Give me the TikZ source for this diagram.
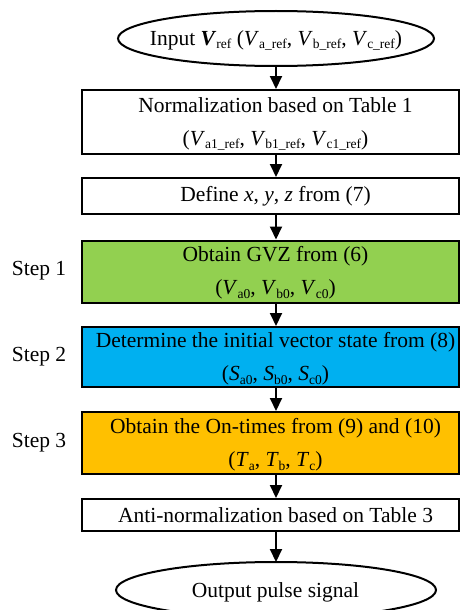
\documentclass[tikz,border=0pt]{standalone}
\usepackage{fontspec}
\setmainfont{Liberation Serif}
\usetikzlibrary{arrows.meta,shapes.geometric}
\definecolor{cgreen}{HTML}{92D050}
\definecolor{cblue}{HTML}{00B0F0}
\definecolor{corange}{HTML}{FFC000}
\newcommand{\sbs}[1]{\raisebox{-3.5pt}{\fontsize{13.5}{14}\selectfont #1}}
\newcommand{\vv}[2]{\textit{#1}\sbs{#2}}
\begin{document}
\begin{tikzpicture}[x=1pt,y=1pt,
  box/.style={draw,line width=2pt,minimum width=377pt,inner sep=0pt},
  term/.style={draw,ellipse,line width=2pt,inner sep=0pt,outer sep=0pt},
  txt/.style={font=\fontsize{21.5}{33}\selectfont,align=center,inner sep=0pt},
  steplbl/.style={font=\fontsize{21.5}{26}\selectfont,inner sep=0pt},
  arr/.style={line width=2pt,-{Triangle[width=12pt,length=13pt]}}]
\useasboundingbox (0,0) rectangle (462,-610);
\node[term,minimum width=316pt,minimum height=55pt] (in) at (276,-38.5) {};
\node[txt] (tin) at (276,-40.5) {Input \textbf{\textit{V}}\sbs{ref} (\vv{V}{a\_ref}, \vv{V}{b\_ref}, \vv{V}{c\_ref})};
\node[box,minimum height=64pt] (b1) at (270.5,-122) {};
\node[txt] (t1) at (275.5,-124) {Normalization based on Table 1\\(\vv{V}{a1\_ref}, \vv{V}{b1\_ref}, \vv{V}{c1\_ref})};
\node[box,minimum height=36pt] (b2) at (270.5,-196) {};
\node[txt] (t2) at (275.5,-196) {Define \textit{x}, \textit{y}, \textit{z} from (7)};
\node[box,fill=cgreen,minimum height=62pt] (b3) at (270.5,-271.5) {};
\node[txt] (t3) at (275.5,-273) {Obtain GVZ from (6)\\(\vv{V}{a0}, \vv{V}{b0}, \vv{V}{c0})};
\node[box,fill=cblue,minimum height=60pt] (b4) at (270.5,-357) {};
\node[txt] (t4) at (275.5,-359) {Determine the initial vector state from (8)\\(\vv{S}{a0}, \vv{S}{b0}, \vv{S}{c0})};
\node[box,fill=corange,minimum height=62pt] (b5) at (270.5,-443) {};
\node[txt] (t5) at (275.5,-445) {Obtain the On-times from (9) and (10)\\(\vv{T}{a}, \vv{T}{b}, \vv{T}{c})};
\node[box,minimum height=32pt] (b6) at (270.5,-515) {};
\node[txt] (t6) at (275.5,-515) {Anti-normalization based on Table 3};
\node[term,minimum width=320pt,minimum height=56pt] (out) at (276,-590) {};
\node[txt] (tout) at (275.5,-592) {Output pulse signal};
\node[steplbl] (s1) at (39,-271) {Step 1};
\node[steplbl] (s2) at (39,-357) {Step 2};
\node[steplbl] (s3) at (39,-443) {Step 3};
\draw[arr] (in.south) -- (b1.north -| in.south);
\draw[arr] (b1.south -| in.south) -- (b2.north -| in.south);
\draw[arr] (b2.south -| in.south) -- (b3.north -| in.south);
\draw[arr] (b3.south -| in.south) -- (b4.north -| in.south);
\draw[arr] (b4.south -| in.south) -- (b5.north -| in.south);
\draw[arr] (b5.south -| in.south) -- (b6.north -| in.south);
\draw[arr] (b6.south -| in.south) -- (out.north);
\end{tikzpicture}
\end{document}
